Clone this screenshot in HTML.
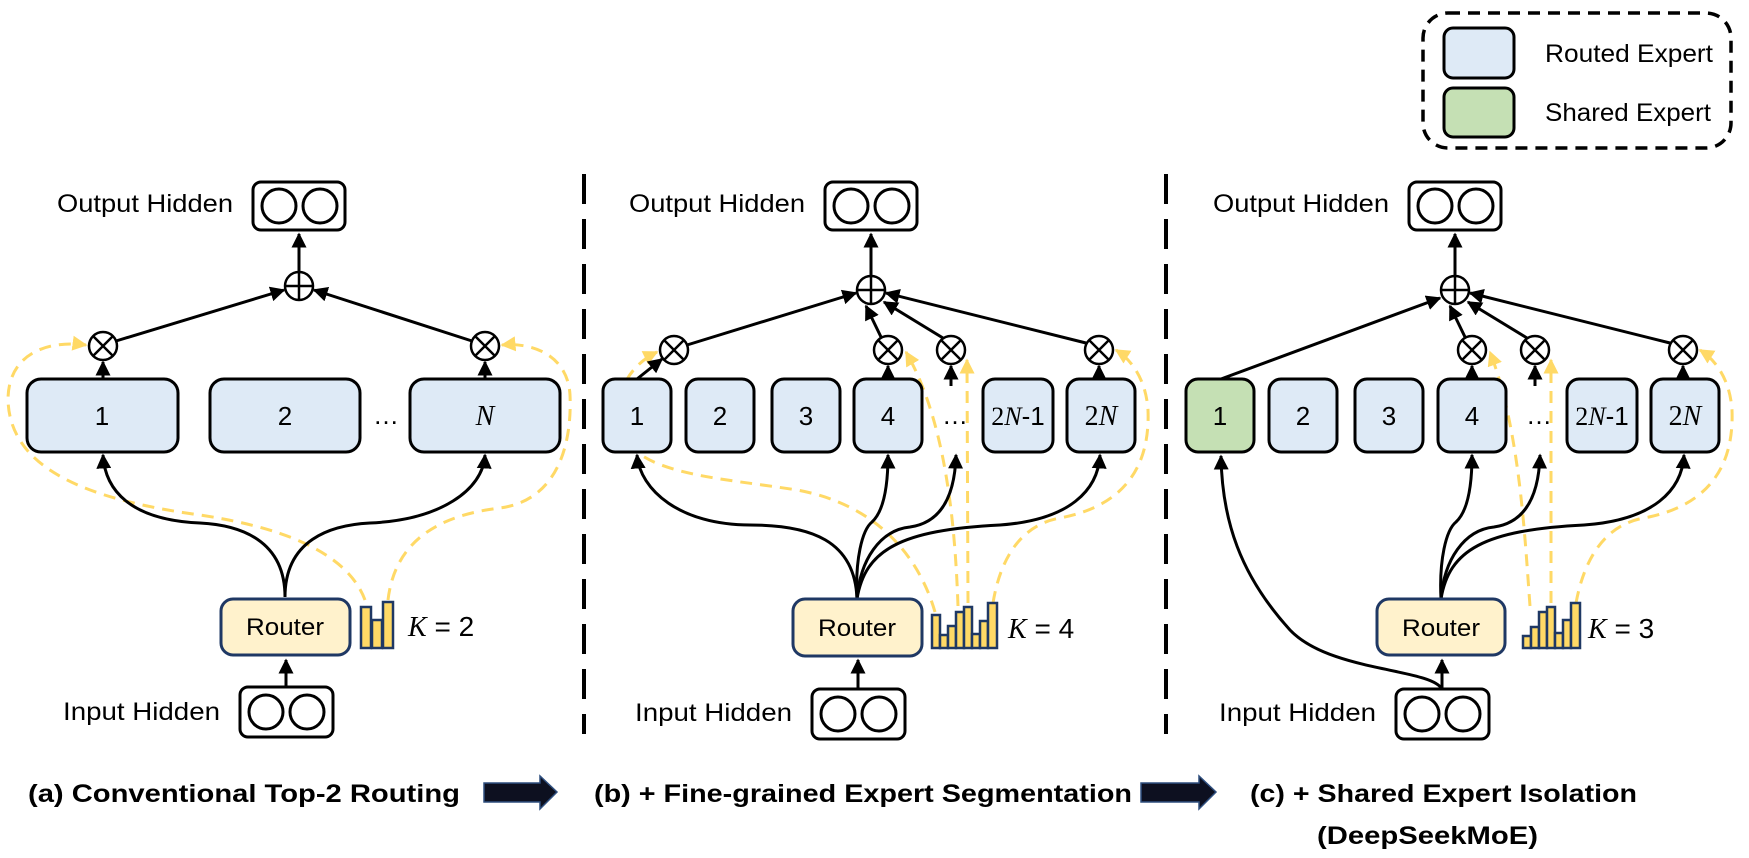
<!DOCTYPE html>
<html><head><meta charset="utf-8"><style>
html,body{margin:0;padding:0;background:#fff}
svg{display:block}
text{font-family:"Liberation Sans",sans-serif;fill:#000}
.m{font-family:"Liberation Serif",serif;font-style:italic}
</style></head><body>
<svg width="1749" height="858" viewBox="0 0 1749 858" xmlns="http://www.w3.org/2000/svg">
<defs>
<marker id="ab" viewBox="0 0 10 10" refX="9" refY="5" markerWidth="5" markerHeight="5" orient="auto" markerUnits="strokeWidth"><path d="M0,0 L10,5 L0,10 z" fill="#000"/></marker>
<marker id="ay" viewBox="0 0 10 10" refX="9" refY="5" markerWidth="5" markerHeight="5" orient="auto" markerUnits="strokeWidth"><path d="M0,0 L10,5 L0,10 z" fill="#FFD966"/></marker>
</defs>

<!-- legend -->
<rect x="1423" y="13" width="308" height="135" rx="25" fill="none" stroke="#000" stroke-width="3.5" stroke-dasharray="12,8"/>
<rect x="1444" y="28" width="70" height="50" rx="9" fill="#DEEAF6" stroke="#000" stroke-width="3"/>
<rect x="1444" y="88" width="70" height="49" rx="9" fill="#C5E0B4" stroke="#000" stroke-width="3"/>
<text x="1545" y="62" font-size="25" textLength="168" lengthAdjust="spacingAndGlyphs">Routed Expert</text>
<text x="1545" y="121" font-size="25" textLength="166" lengthAdjust="spacingAndGlyphs">Shared Expert</text>

<!-- dividers -->
<line x1="584" y1="174" x2="584" y2="734" stroke="#000" stroke-width="4" stroke-dasharray="30,15"/>
<line x1="1166" y1="174" x2="1166" y2="734" stroke="#000" stroke-width="4" stroke-dasharray="30,15"/>

<g stroke-width="3" fill="none">
<path d="M365,600 C350,560 300,530 200,515 C90,500 10,470 8,400 C8,352 50,340 86,345" stroke="#FFD966" stroke-dasharray="12,8" marker-end="url(#ay)"/>
<path d="M388,600 C395,540 440,515 500,508 C560,500 572,440 570,395 C568,357 535,342 502,345" stroke="#FFD966" stroke-dasharray="12,8" marker-end="url(#ay)"/>
<path d="M285,597 C285,540 240,525 200,523 C130,520 105,490 103,455" stroke="#000" marker-end="url(#ab)"/>
<path d="M285,597 C285,540 330,525 370,523 C440,520 483,490 485,455" stroke="#000" marker-end="url(#ab)"/>
<path d="M286,687 L286,660" stroke="#000" marker-end="url(#ab)"/>
<path d="M103,379 L103,362" stroke="#000" marker-end="url(#ab)"/>
<path d="M485,379 L485,362" stroke="#000" marker-end="url(#ab)"/>
<path d="M116,341 L284,290" stroke="#000" marker-end="url(#ab)"/>
<path d="M472,341 L314,290" stroke="#000" marker-end="url(#ab)"/>
<path d="M299,272 L299,234" stroke="#000" marker-end="url(#ab)"/>

<path d="M935,612 C920,560 880,505 797,490 C720,478 650,475 625,440 C610,410 620,370 657,352" stroke="#FFD966" stroke-dasharray="12,8" marker-end="url(#ay)"/>
<path d="M958,606 C955,520 945,420 906,352" stroke="#FFD966" stroke-dasharray="12,8" marker-end="url(#ay)"/>
<path d="M968,603 L967,360" stroke="#FFD966" stroke-dasharray="12,8" marker-end="url(#ay)"/>
<path d="M993,603 C1000,560 1020,525 1060,518 C1130,505 1150,460 1148,410 C1146,380 1132,360 1116,350" stroke="#FFD966" stroke-dasharray="12,8" marker-end="url(#ay)"/>
<path d="M857,599 C855,540 810,525 750,525 C680,525 640,490 637,455" stroke="#000" marker-end="url(#ab)"/>
<path d="M857,599 C855,560 862,530 872,522 C885,510 888,480 888,455" stroke="#000" marker-end="url(#ab)"/>
<path d="M857,599 C860,560 880,530 910,527 C945,522 955,490 956,455" stroke="#000" marker-end="url(#ab)"/>
<path d="M857,599 C865,550 900,530 1000,525 C1070,520 1098,490 1100,455" stroke="#000" marker-end="url(#ab)"/>
<path d="M858,689 L858,660" stroke="#000" marker-end="url(#ab)"/>
<path d="M637,379 L662,359" stroke="#000" marker-end="url(#ab)"/>
<path d="M888,379 L888,366" stroke="#000" marker-end="url(#ab)"/>
<path d="M951,386 L951,366" stroke="#000" marker-end="url(#ab)"/>
<path d="M1099,379 L1099,366" stroke="#000" marker-end="url(#ab)"/>
<path d="M687,345 L856,293" stroke="#000" marker-end="url(#ab)"/>
<path d="M881,337 L866,306" stroke="#000" marker-end="url(#ab)"/>
<path d="M943,338 L884,302" stroke="#000" marker-end="url(#ab)"/>
<path d="M1086,343 L886,293" stroke="#000" marker-end="url(#ab)"/>
<path d="M871,276 L871,234" stroke="#000" marker-end="url(#ab)"/>

<path d="M1530,606 C1525,540 1520,430 1490,352" stroke="#FFD966" stroke-dasharray="12,8" marker-end="url(#ay)"/>
<path d="M1551,603 L1551,360" stroke="#FFD966" stroke-dasharray="12,8" marker-end="url(#ay)"/>
<path d="M1576,603 C1584,560 1604,525 1644,518 C1714,505 1734,460 1732,410 C1730,380 1716,360 1700,350" stroke="#FFD966" stroke-dasharray="12,8" marker-end="url(#ay)"/>
<path d="M1441,599 C1439,560 1446,530 1456,522 C1469,510 1472,480 1472,455" stroke="#000" marker-end="url(#ab)"/>
<path d="M1441,599 C1444,560 1464,530 1494,527 C1529,522 1539,490 1540,455" stroke="#000" marker-end="url(#ab)"/>
<path d="M1441,599 C1449,550 1484,530 1584,525 C1654,520 1682,490 1684,455" stroke="#000" marker-end="url(#ab)"/>
<path d="M1442,689 C1430,668 1330,672 1290,630 C1240,575 1222,520 1221,456" stroke="#000" marker-end="url(#ab)"/>
<path d="M1442,689 L1442,660" stroke="#000" marker-end="url(#ab)"/>
<path d="M1472,379 L1472,366" stroke="#000" marker-end="url(#ab)"/>
<path d="M1535,386 L1535,366" stroke="#000" marker-end="url(#ab)"/>
<path d="M1683,379 L1683,366" stroke="#000" marker-end="url(#ab)"/>
<path d="M1221,379 L1440,298" stroke="#000" marker-end="url(#ab)"/>
<path d="M1465,337 L1450,306" stroke="#000" marker-end="url(#ab)"/>
<path d="M1527,338 L1468,302" stroke="#000" marker-end="url(#ab)"/>
<path d="M1670,343 L1470,293" stroke="#000" marker-end="url(#ab)"/>
<path d="M1455,276 L1455,234" stroke="#000" marker-end="url(#ab)"/>
</g>

<g fill="#fff" stroke="#000" stroke-width="2.5">
<g transform="translate(103,346)"><circle r="14"/><path d="M-10,-10 L10,10 M10,-10 L-10,10"/></g>
<g transform="translate(485,346)"><circle r="14"/><path d="M-10,-10 L10,10 M10,-10 L-10,10"/></g>
<g transform="translate(674,350)"><circle r="14"/><path d="M-10,-10 L10,10 M10,-10 L-10,10"/></g>
<g transform="translate(888,350)"><circle r="14"/><path d="M-10,-10 L10,10 M10,-10 L-10,10"/></g>
<g transform="translate(951,350)"><circle r="14"/><path d="M-10,-10 L10,10 M10,-10 L-10,10"/></g>
<g transform="translate(1099,350)"><circle r="14"/><path d="M-10,-10 L10,10 M10,-10 L-10,10"/></g>
<g transform="translate(1472,350)"><circle r="14"/><path d="M-10,-10 L10,10 M10,-10 L-10,10"/></g>
<g transform="translate(1535,350)"><circle r="14"/><path d="M-10,-10 L10,10 M10,-10 L-10,10"/></g>
<g transform="translate(1683,350)"><circle r="14"/><path d="M-10,-10 L10,10 M10,-10 L-10,10"/></g>
<g transform="translate(299,286)"><circle r="14"/><path d="M-14,0 L14,0 M0,-14 L0,14"/></g>
<g transform="translate(871,290)"><circle r="14"/><path d="M-14,0 L14,0 M0,-14 L0,14"/></g>
<g transform="translate(1455,290)"><circle r="14"/><path d="M-14,0 L14,0 M0,-14 L0,14"/></g>
</g>

<g fill="#fff" stroke="#000" stroke-width="3">
<rect x="253" y="182" width="92" height="48" rx="8"/><circle cx="279" cy="206" r="17"/><circle cx="320" cy="206" r="17"/>
<rect x="825" y="182" width="92" height="48" rx="8"/><circle cx="851" cy="206" r="17"/><circle cx="892" cy="206" r="17"/>
<rect x="1409" y="182" width="92" height="48" rx="8"/><circle cx="1435" cy="206" r="17"/><circle cx="1476" cy="206" r="17"/>
<rect x="240" y="687" width="93" height="50" rx="8"/><circle cx="266" cy="712" r="17"/><circle cx="307" cy="712" r="17"/>
<rect x="812" y="689" width="93" height="50" rx="8"/><circle cx="838" cy="714" r="17"/><circle cx="879" cy="714" r="17"/>
<rect x="1396" y="689" width="93" height="50" rx="8"/><circle cx="1422" cy="714" r="17"/><circle cx="1463" cy="714" r="17"/>
</g>
<g font-size="25">
<text x="57" y="212" textLength="176" lengthAdjust="spacingAndGlyphs">Output Hidden</text>
<text x="629" y="212" textLength="176" lengthAdjust="spacingAndGlyphs">Output Hidden</text>
<text x="1213" y="212" textLength="176" lengthAdjust="spacingAndGlyphs">Output Hidden</text>
<text x="63" y="720" textLength="157" lengthAdjust="spacingAndGlyphs">Input Hidden</text>
<text x="635" y="721" textLength="157" lengthAdjust="spacingAndGlyphs">Input Hidden</text>
<text x="1219" y="721" textLength="157" lengthAdjust="spacingAndGlyphs">Input Hidden</text>
</g>

<g stroke="#000" stroke-width="3" fill="#DEEAF6">
<rect x="27" y="379" width="151" height="73" rx="14"/>
<rect x="210" y="379" width="150" height="73" rx="14"/>
<rect x="410" y="379" width="150" height="73" rx="14"/>
<rect x="603" y="379" width="68" height="73" rx="12"/>
<rect x="686" y="379" width="68" height="73" rx="12"/>
<rect x="772" y="379" width="68" height="73" rx="12"/>
<rect x="854" y="379" width="68" height="73" rx="12"/>
<rect x="983" y="379" width="70" height="73" rx="12"/>
<rect x="1067" y="379" width="68" height="73" rx="12"/>
<rect x="1186" y="379" width="68" height="73" rx="12" fill="#C5E0B4"/>
<rect x="1269" y="379" width="68" height="73" rx="12"/>
<rect x="1355" y="379" width="68" height="73" rx="12"/>
<rect x="1438" y="379" width="68" height="73" rx="12"/>
<rect x="1567" y="379" width="70" height="73" rx="12"/>
<rect x="1651" y="379" width="68" height="73" rx="12"/>
</g>
<g font-size="26" text-anchor="middle">
<text x="102" y="425">1</text><text x="285" y="425">2</text><text x="485" y="425" class="m" font-size="28">N</text>
<text x="386" y="424">…</text>
<text x="637" y="425">1</text><text x="720" y="425">2</text><text x="806" y="425">3</text><text x="888" y="425">4</text>
<text x="955" y="424">…</text>
<text x="1018" y="425" class="m" font-size="26"><tspan font-style="normal">2</tspan>N<tspan font-style="normal" font-family="Liberation Sans">-1</tspan></text>
<text x="1101" y="425" class="m" font-size="28"><tspan font-style="normal">2</tspan>N</text>
<text x="1220" y="425">1</text><text x="1303" y="425">2</text><text x="1389" y="425">3</text><text x="1472" y="425">4</text>
<text x="1539" y="424">…</text>
<text x="1602" y="425" class="m" font-size="26"><tspan font-style="normal">2</tspan>N<tspan font-style="normal" font-family="Liberation Sans">-1</tspan></text>
<text x="1685" y="425" class="m" font-size="28"><tspan font-style="normal">2</tspan>N</text>
</g>

<g fill="#FFF2CC" stroke="#1F3864" stroke-width="3">
<rect x="221" y="599" width="129" height="56" rx="12"/>
<rect x="793" y="599" width="129" height="57" rx="12"/>
<rect x="1377" y="599" width="128" height="56" rx="12"/>
</g>
<g font-size="24" text-anchor="middle">
<text x="285" y="635" textLength="78" lengthAdjust="spacingAndGlyphs">Router</text>
<text x="857" y="636" textLength="78" lengthAdjust="spacingAndGlyphs">Router</text>
<text x="1441" y="636" textLength="78" lengthAdjust="spacingAndGlyphs">Router</text>
</g>

<g fill="#FFD966" stroke="#1F3864" stroke-width="2.5">
<rect x="361" y="607" width="10" height="41"/><rect x="372" y="620" width="10" height="28"/><rect x="383" y="602" width="10" height="46"/>
<rect x="932" y="615" width="8" height="33"/><rect x="940" y="635" width="8" height="13"/><rect x="948" y="626" width="8" height="22"/><rect x="956" y="612" width="8" height="36"/><rect x="964" y="607" width="8" height="41"/><rect x="972" y="634" width="8" height="14"/><rect x="980" y="621" width="8" height="27"/><rect x="988" y="603" width="9" height="45"/>
<rect x="1523" y="636" width="8" height="12"/><rect x="1531" y="627" width="8" height="21"/><rect x="1539" y="612" width="8" height="36"/><rect x="1547" y="607" width="8" height="41"/><rect x="1555" y="633" width="8" height="15"/><rect x="1563" y="620" width="8" height="28"/><rect x="1571" y="603" width="9" height="45"/>
</g>
<g font-size="28" font-family="Liberation Serif">
<text x="408" y="636"><tspan class="m">K</tspan> = 2</text>
<text x="1008" y="638"><tspan class="m">K</tspan> = 4</text>
<text x="1588" y="638"><tspan class="m">K</tspan>  = 3</text>
</g>

<g font-size="25" font-weight="bold">
<text x="28" y="802" textLength="432" lengthAdjust="spacingAndGlyphs">(a) Conventional Top-2 Routing</text>
<text x="594" y="802" textLength="538" lengthAdjust="spacingAndGlyphs">(b) + Fine-grained Expert Segmentation</text>
<text x="1250" y="802" textLength="387" lengthAdjust="spacingAndGlyphs">(c) + Shared Expert Isolation</text>
<text x="1317" y="844" textLength="221" lengthAdjust="spacingAndGlyphs">(DeepSeekMoE)</text>
</g>
<g fill="#0d1020" stroke="#2F4F7F" stroke-width="1.5">
<path d="M484,783 L540,783 L540,776 L557,792 L540,809 L540,802 L484,802 z"/>
<path d="M1141,783 L1199,783 L1199,776 L1216,792 L1199,809 L1199,802 L1141,802 z"/>
</g>
</svg>
</body></html>
